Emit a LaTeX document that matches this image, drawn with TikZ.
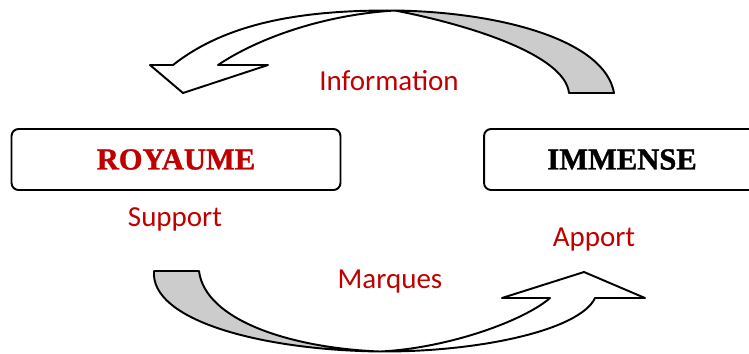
\documentclass[tikz,border=0pt]{standalone}
\usepackage{fontspec}
\usepackage{xcolor}
\usepackage{tikz}
\setmainfont{Liberation Serif}
\newfontfamily\calibrifont{Carlito}
\newfontfamily\heavyfont[BoldFeatures={FakeBold=1.2}]{Liberation Serif}
\definecolor{darkred}{rgb}{0.75, 0, 0}
\definecolor{ribbongray}{rgb}{0.8, 0.8, 0.8}
\tikzset{
	wordbox/.style = {draw, rounded corners=4pt, line width=1.1pt, minimum height=1.22cm, align=center, font=\heavyfont\fontsize{17.4}{20}\selectfont\bfseries},
	redlabel/.style = {anchor=base, inner sep=0pt, text=darkred, font=\calibrifont\fontsize{16.5}{20}\selectfont},
	ribbon/.style = {draw, line width=1.1pt, line join=round}
}

\begin{document}
\begin{tikzpicture}[x=0.02cm, y=-0.02cm]
	\useasboundingbox (0,0) rectangle (749,353);
	
	\node[wordbox, minimum width=6.58cm] (royaume) at (176,159.5) {\textcolor{darkred}{ROYAUME}};
	
	\node[wordbox, minimum width=5.52cm] (immense) at (622,159.5) {IMMENSE};
	
	\node[redlabel] (info) at (389,90) {Information};
	
	\node[redlabel] (support) at (175,226) {Support};
	
	\node[redlabel] (apport) at (594,246) {Apport};
	
	\node[redlabel] (marques) at (390,288) {Marques};
	
	% upper arrow, from immense back to royaume
	\draw[ribbon, fill=ribbongray] (395,10.5) .. controls (500,12) and (605,40) .. (614,93) -- (569,93) .. controls (565,55) and (470,25) .. cycle;
	
	\draw[ribbon, fill=white] (173,65) -- (150,65) -- (183,93) -- (268,65) -- (218,65) .. controls (255,40) and (320,15) .. (395,10.5) .. controls (310,10) and (230,20) .. cycle;
	
	% lower arrow, from royaume to immense
	\draw[ribbon, fill=ribbongray] (154,271) .. controls (150,320) and (260,350) .. (380,351.5) .. controls (290,348) and (205,320) .. (199,271) -- cycle;
	
	\draw[ribbon, fill=white] (595,298) -- (645,298) -- (584,272) -- (502,298) -- (550,298) .. controls (525,320) and (450,348) .. (380,351.5) .. controls (480,352) and (580,330) .. cycle;
	
\end{tikzpicture}
\end{document}
